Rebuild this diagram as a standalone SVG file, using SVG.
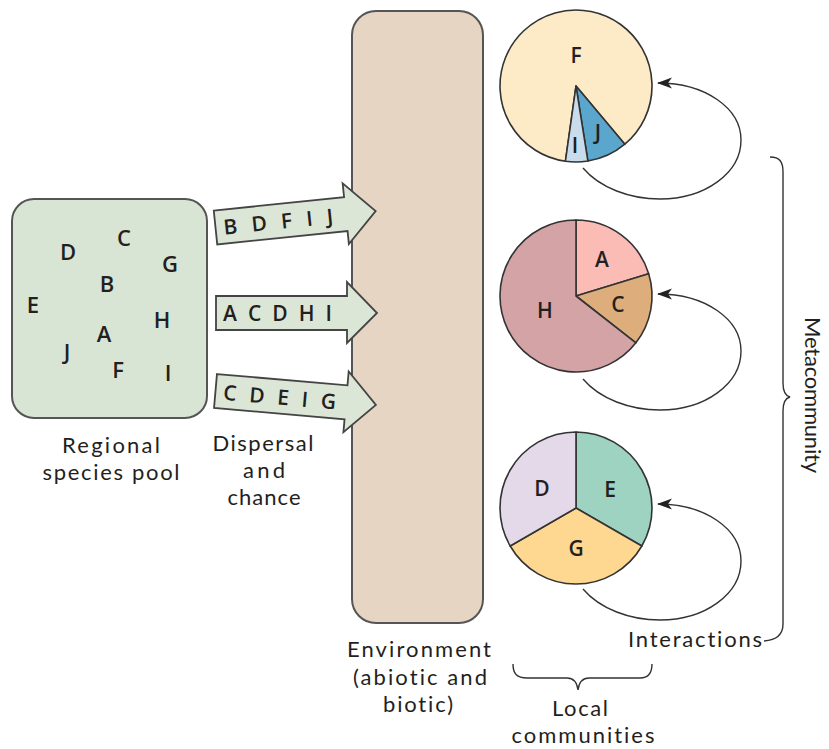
<svg xmlns="http://www.w3.org/2000/svg" width="829" height="749" viewBox="0 0 829 749">
<defs>
<style>
text{font-family:"Open Sans","Noto Sans","DejaVu Sans",sans-serif;fill:#231f20;font-variant-ligatures:none}
.lbl text,text.lbl{font-family:Lato,"Open Sans",sans-serif;font-size:22px;font-variant-ligatures:none;font-feature-settings:"liga" 0,"dlig" 0}
.sp{font-size:22px;font-weight:600}
.pl{font-size:21px;font-weight:600}
.box{stroke:#555;stroke-width:2}
.pie{stroke:#333;stroke-width:1.6;stroke-linejoin:round}
.line{fill:none;stroke:#333;stroke-width:1.4}
.arr{fill:#dbe6d6;stroke:#444;stroke-width:1.8;stroke-linejoin:miter}
</style>
<marker id="ah" markerUnits="userSpaceOnUse" markerWidth="15" markerHeight="12" refX="14" refY="6" orient="auto" viewBox="0 0 15 12">
<path d="M15,6 L0,0.5 L4,6 L0,11.5 Z" fill="#222"/>
</marker>
<path id="bigarrow" d="M0,-17 L131,-17 L131,-31 L161,0 L131,30 L131,17 L0,17 Z"/>
<path id="loop" d="M583,168 C600,188 630,199 660,199 C705,199 741,173 741,140 C741,108 705,83 658,83"/>
</defs>

<g id="pool">
<rect class="box" x="12" y="199" width="195" height="219" rx="22" fill="#d9e5d4"/>
<g text-anchor="middle" class="sp">
<text x="68" y="260">D</text>
<text x="124" y="246">C</text>
<text x="170" y="272">G</text>
<text x="107" y="292">B</text>
<text x="33" y="313">E</text>
<text x="162" y="328">H</text>
<text x="104" y="342">A</text>
<text x="67" y="360">J</text>
<text x="118" y="378">F</text>
<text x="168" y="381">I</text>
</g>
<g text-anchor="middle" class="lbl">
<text x="111" y="453" textLength="98" lengthAdjust="spacing">Regional</text>
<text x="111" y="480" textLength="137" lengthAdjust="spacing">species pool</text>
</g>
</g>

<g id="environment">
<rect class="box" x="352" y="11" width="131" height="612" rx="24" fill="#e6d5c2"/>
<g text-anchor="middle" class="lbl">
<text x="419" y="657" textLength="144" lengthAdjust="spacing">Environment</text>
<text x="420" y="685" textLength="134" lengthAdjust="spacing">(abiotic and</text>
<text x="418" y="712" textLength="70" lengthAdjust="spacing">biotic)</text>
</g>
</g>

<g id="connectors">
<g id="dispersal1" transform="translate(215.5,227.5) rotate(-5.87)">
<use href="#bigarrow" class="arr"/>
<text class="pl" x="8" y="8" textLength="110" lengthAdjust="spacing">B D F I J</text>
</g>
<g id="dispersal2" transform="translate(216,313)">
<use href="#bigarrow" class="arr"/>
<text class="pl" x="7" y="8" textLength="109" lengthAdjust="spacing">A C D H I</text>
</g>
<g id="dispersal3" transform="translate(215.5,391) rotate(4.95)">
<use href="#bigarrow" class="arr"/>
<text class="pl" x="8" y="8" textLength="113" lengthAdjust="spacing">C D E I G</text>
</g>
<use href="#loop" class="line" marker-end="url(#ah)"/>
<use href="#loop" class="line" marker-end="url(#ah)" transform="translate(0,211)"/>
<use href="#loop" class="line" marker-end="url(#ah)" transform="translate(0,421)"/>
<path class="line" d="M770,157 C780,157 783,162 783,172 L783,383 C783,392 786,396 790,397 C786,398 783,402 783,411 L783,624 C783,634 778,640 764,641"/>
<path class="line" d="M513,664 C513,674 517,678 527,678 L567,678 C573,678 577,682 578,690 C579,682 583,678 589,678 L640,678 C648,678 652,674 652,664"/>
</g>

<g id="dispersal-label" text-anchor="middle" class="lbl">
<text x="263" y="451" textLength="101" lengthAdjust="spacing">Dispersal</text>
<text x="264" y="478" textLength="42" lengthAdjust="spacing">and</text>
<text x="264" y="505" textLength="73" lengthAdjust="spacing">chance</text>
</g>

<g id="community1">
<path class="pie" fill="#fdebc8" d="M576,86 L565.42,161.26 A76,76 0 1 1 624.85,144.22 Z"/>
<path class="pie" fill="#5aa6cc" d="M576,86 L624.85,144.22 A76,76 0 0 1 587.89,161.07 Z"/>
<path class="pie" fill="#c8dcec" d="M576,86 L587.89,161.07 A76,76 0 0 1 565.42,161.26 Z"/>
<g text-anchor="middle" class="pl">
<text x="576" y="63">F</text>
<text x="598" y="140">J</text>
<text x="575" y="153">I</text>
</g>
</g>

<g id="community2">
<path class="pie" fill="#fbbcb6" d="M576,296 L576,220 A76,76 0 0 1 648.68,273.78 Z"/>
<path class="pie" fill="#ddae7c" d="M576,296 L648.68,273.78 A76,76 0 0 1 635.89,342.79 Z"/>
<path class="pie" fill="#d4a3a6" d="M576,296 L635.89,342.79 A76,76 0 1 1 576,220 Z"/>
<g text-anchor="middle" class="pl">
<text x="602" y="267">A</text>
<text x="618" y="312">C</text>
<text x="545" y="318">H</text>
</g>
</g>

<g id="community3">
<path class="pie" fill="#9dd3c0" d="M576,508 L576,432 A76,76 0 0 1 641.82,546 Z"/>
<path class="pie" fill="#fed791" d="M576,508 L641.82,546 A76,76 0 0 1 510.18,546 Z"/>
<path class="pie" fill="#e3d9e8" d="M576,508 L510.18,546 A76,76 0 0 1 576,432 Z"/>
<g text-anchor="middle" class="pl">
<text x="542" y="496">D</text>
<text x="610" y="497">E</text>
<text x="576" y="556">G</text>
</g>
</g>

<g id="labels" class="lbl">
<text x="628" y="647" textLength="134" lengthAdjust="spacing">Interactions</text>
<text x="580" y="716" text-anchor="middle" textLength="56" lengthAdjust="spacing">Local</text>
<text x="583" y="743" text-anchor="middle" textLength="143" lengthAdjust="spacing">communities</text>
<text transform="translate(805,395) rotate(90)" text-anchor="middle" textLength="156" lengthAdjust="spacing">Metacommunity</text>
</g>
</svg>
